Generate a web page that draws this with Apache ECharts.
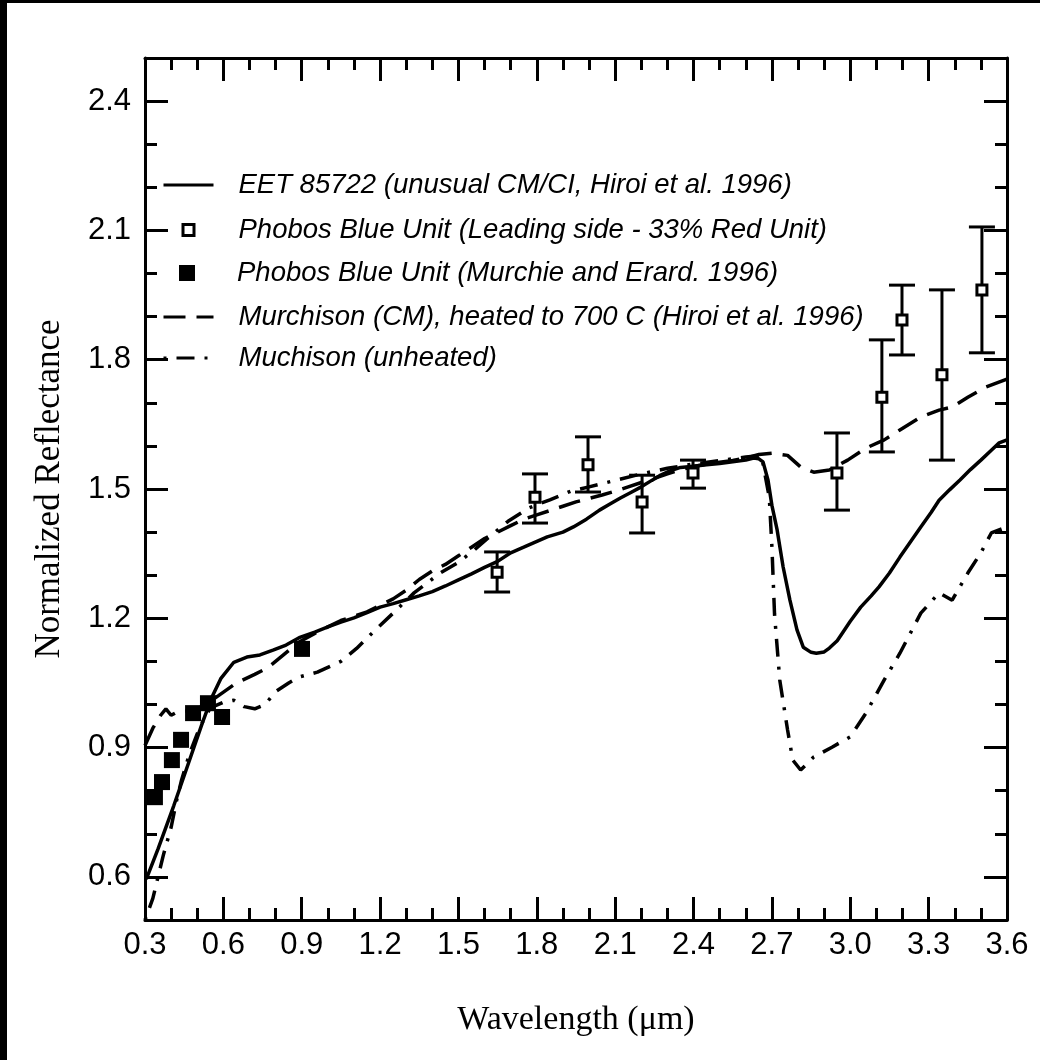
<!DOCTYPE html>
<html>
<head>
<meta charset="utf-8">
<script src="https://cdn.jsdelivr.net/npm/echarts@6/dist/echarts.min.js"></script>
<style>
  html, body { margin: 0; padding: 0; background: #000; width: 1040px; height: 1060px; overflow: hidden; }
  #chart { position: absolute; left: 7px; top: 3px; width: 1033px; height: 1057px; background: #fff; }
</style>
</head>
<body>
<div id="chart"></div>
<script>
// ---- series names ----
const nameEET = 'EET 85722 (unusual CM/CI, Hiroi et al. 1996)';
const nameBlueLeading = 'Phobos Blue Unit (Leading side - 33% Red Unit)';
const nameBlueMurchie = 'Phobos Blue Unit (Murchie and Erard. 1996)';
const nameHeated = 'Murchison (CM), heated to 700 C (Hiroi et al. 1996)';
const nameUnheated = 'Muchison (unheated)';

// ---- EET 85722 spectrum ----
const eetWl = [0.305,0.35,0.41,0.47,0.52,0.556,0.59,0.64,0.69,0.74,0.79,0.84,0.89,0.95,1.0,1.05,1.1,1.15,1.2,1.25,1.3,1.35,1.4,1.45,1.5,1.55,1.6,1.65,1.7,1.75,1.84,1.9,1.94,1.99,2.04,2.08,2.12,2.16,2.2,2.24,2.27,2.31,2.35,2.40,2.45,2.50,2.55,2.60,2.63,2.65,2.666,2.685,2.70,2.72,2.743,2.769,2.796,2.82,2.85,2.87,2.9,2.92,2.95,2.97,3.0,3.04,3.08,3.11,3.15,3.19,3.23,3.27,3.31,3.34,3.38,3.42,3.46,3.5,3.54,3.57,3.6];
const eetR  = [0.595,0.665,0.765,0.870,0.958,1.017,1.060,1.098,1.110,1.115,1.126,1.138,1.155,1.168,1.180,1.191,1.201,1.213,1.226,1.234,1.243,1.252,1.262,1.275,1.289,1.303,1.318,1.332,1.352,1.365,1.389,1.400,1.412,1.430,1.451,1.465,1.479,1.492,1.505,1.520,1.531,1.542,1.550,1.553,1.556,1.559,1.563,1.567,1.572,1.570,1.563,1.521,1.462,1.405,1.319,1.242,1.173,1.133,1.121,1.119,1.122,1.131,1.148,1.166,1.193,1.226,1.252,1.273,1.305,1.342,1.377,1.412,1.446,1.474,1.498,1.521,1.545,1.567,1.590,1.607,1.614];

// ---- Murchison heated to 700 C ----
const heatedWl = [0.30,0.33,0.36,0.38,0.40,0.43,0.47,0.52,0.58,0.65,0.72,0.77,0.83,0.89,0.95,1.0,1.05,1.1,1.15,1.2,1.25,1.3,1.35,1.4,1.45,1.5,1.55,1.6,1.65,1.7,1.75,1.8,1.85,1.9,1.95,2.0,2.05,2.1,2.15,2.2,2.25,2.3,2.35,2.4,2.45,2.5,2.55,2.6,2.65,2.7,2.76,2.81,2.86,2.92,2.99,3.06,3.13,3.19,3.27,3.34,3.39,3.45,3.52,3.6];
const heatedR  = [0.905,0.945,0.975,0.99,0.975,0.985,0.985,0.995,1.02,1.05,1.07,1.085,1.115,1.145,1.165,1.18,1.195,1.205,1.215,1.23,1.245,1.265,1.29,1.31,1.325,1.345,1.365,1.385,1.40,1.415,1.43,1.44,1.45,1.46,1.47,1.478,1.486,1.495,1.505,1.515,1.525,1.535,1.545,1.552,1.558,1.562,1.566,1.572,1.580,1.583,1.578,1.551,1.539,1.544,1.567,1.595,1.614,1.637,1.667,1.683,1.690,1.713,1.737,1.755];

// ---- Murchison unheated ----
const unheatedWl = [0.30,0.33,0.37,0.40,0.42,0.44,0.47,0.51,0.55,0.60,0.64,0.68,0.72,0.76,0.80,0.85,0.89,0.96,1.05,1.11,1.17,1.25,1.33,1.43,1.5,1.56,1.62,1.69,1.77,1.85,1.93,2.0,2.1,2.2,2.3,2.4,2.5,2.6,2.66,2.69,2.70,2.71,2.73,2.76,2.78,2.81,2.86,2.93,3.0,3.06,3.13,3.19,3.27,3.34,3.39,3.45,3.5,3.54,3.6];
const unheatedR  = [0.50,0.55,0.65,0.715,0.775,0.825,0.885,0.948,0.992,1.005,1.010,0.995,0.99,1.00,1.03,1.05,1.064,1.075,1.10,1.13,1.166,1.212,1.259,1.305,1.33,1.358,1.39,1.425,1.456,1.475,1.495,1.505,1.52,1.535,1.548,1.558,1.566,1.574,1.578,1.48,1.366,1.21,1.057,0.941,0.871,0.848,0.878,0.901,0.925,0.98,1.057,1.119,1.212,1.259,1.242,1.305,1.352,1.398,1.412];

// ---- Phobos Blue Unit, leading side (with error bars) ----
const leadWl   = [1.648,1.793,1.996,2.203,2.398,2.949,3.121,3.198,3.351,3.504];
const leadR    = [1.307,1.481,1.556,1.470,1.537,1.537,1.713,1.892,1.765,1.962];
const leadLow  = [1.261,1.421,1.493,1.398,1.502,1.451,1.586,1.811,1.567,1.816];
const leadHigh = [1.354,1.535,1.621,1.532,1.567,1.630,1.846,1.973,1.962,2.108];

// ---- Phobos Blue Unit, Murchie and Erard ----
const murchieWl = [0.338,0.365,0.403,0.438,0.484,0.541,0.595,0.901];
const murchieR  = [0.785,0.820,0.871,0.918,0.980,1.003,0.971,1.129];

// ---- axis ticks ----
const xMajorTicks = [0.3,0.6,0.9,1.2,1.5,1.8,2.1,2.4,2.7,3.0,3.3,3.6];
const yMajorTicks = [0.6,0.9,1.2,1.5,1.8,2.1,2.4];

const zip = (a, b) => a.map((v, i) => [v, b[i]]);

const black = '#000';
const sansFont = '"Liberation Sans", Arial, Helvetica, sans-serif';
const serifFont = '"Liberation Serif", "Times New Roman", serif';
const curveWidth = 3.5;

const tickFmt = v => Number(v).toFixed(1);

function xAxisCfg(position, withLabels) {
  return {
    type: 'value', position: position, min: 0.3, max: 3.6, interval: 0.3,
    axisLine: { show: true, lineStyle: { color: black, width: 3 } },
    axisTick: { show: true, inside: true, length: 23, customValues: xMajorTicks, lineStyle: { color: black, width: 3 } },
    minorTick: { show: true, splitNumber: 3, length: 12, lineStyle: { color: black, width: 3 } },
    axisLabel: { show: withLabels, margin: 10, fontSize: 31, color: black, fontFamily: sansFont, formatter: tickFmt },
    splitLine: { show: false },
    name: withLabels ? 'Wavelength (μm)' : '',
    nameLocation: 'middle', nameGap: 83,
    nameTextStyle: { fontFamily: serifFont, fontSize: 34, color: black }
  };
}

function yMajorCfg(position, withLabels) {
  return {
    type: 'value', position: position, min: 0.5, max: 2.5,
    axisLine: { show: true, lineStyle: { color: black, width: 3 } },
    axisTick: { show: true, inside: true, length: 23, customValues: yMajorTicks, lineStyle: { color: black, width: 3 } },
    axisLabel: { show: withLabels, customValues: yMajorTicks, margin: 14, fontSize: 31, color: black, fontFamily: sansFont, formatter: tickFmt },
    splitLine: { show: false },
    name: withLabels ? 'Normalized Reflectance' : '',
    nameLocation: 'middle', nameGap: 78,
    nameTextStyle: { fontFamily: serifFont, fontSize: 35, color: black }
  };
}

function yMinorCfg(position) {
  return {
    type: 'value', position: position, min: 0.5, max: 2.5, interval: 0.1,
    axisLine: { show: false },
    axisTick: { show: true, inside: true, length: 12, lineStyle: { color: black, width: 3 } },
    axisLabel: { show: false },
    splitLine: { show: false }
  };
}

// error bars: vertical whisker with caps
function renderErrorBar(params, api) {
  const x = api.value(0);
  const lo = api.coord([x, api.value(1)]);
  const hi = api.coord([x, api.value(2)]);
  const half = 13;
  const style = { stroke: black, lineWidth: 3 };
  return {
    type: 'group',
    children: [
      { type: 'line', shape: { x1: lo[0], y1: lo[1], x2: hi[0], y2: hi[1] }, style: style },
      { type: 'line', shape: { x1: lo[0] - half, y1: lo[1], x2: lo[0] + half, y2: lo[1] }, style: style },
      { type: 'line', shape: { x1: hi[0] - half, y1: hi[1], x2: hi[0] + half, y2: hi[1] }, style: style }
    ]
  };
}

const heatedDash = [22, 11];
const unheatedDash = [18, 10, 3, 10];

// legend: one component per row so each icon can have its own size
const legendTextX = 230;
function legendText(iconLeft, iconWidth) {
  return {
    fontFamily: sansFont, fontStyle: 'italic', fontSize: 27.5, color: black, lineHeight: 28,
    padding: [0, 0, 0, legendTextX - (iconLeft + iconWidth + 5)]
  };
}
function lineLegend(name, centerY) {
  return {
    show: true, orient: 'vertical', left: 155, top: centerY - 14, padding: 0,
    itemWidth: 50, itemHeight: 14, selectedMode: false,
    textStyle: legendText(155, 50),
    itemStyle: { opacity: 0 },
    lineStyle: { width: 3 },
    data: [name]
  };
}
function squareLegend(name, centerY, size, style) {
  const left = 180 - size / 2;
  return {
    show: true, orient: 'vertical', left: left, top: centerY - 14, padding: 0,
    itemWidth: size, itemHeight: size, selectedMode: false,
    textStyle: legendText(left, size),
    data: [{ name: name, icon: 'rect', itemStyle: style }]
  };
}

const option = {
  animation: false,
  backgroundColor: '#fff',
  grid: { left: 138, top: 55, width: 862, height: 862 },
  xAxis: [xAxisCfg('bottom', true), xAxisCfg('top', false)],
  yAxis: [yMajorCfg('left', true), yMinorCfg('left'), yMajorCfg('right', false), yMinorCfg('right')],
  legend: [
    lineLegend(nameEET, 182),
    squareLegend(nameBlueLeading, 227, 11, { color: '#fff', borderColor: black, borderWidth: 3 }),
    squareLegend(nameBlueMurchie, 270, 16, { color: black, borderWidth: 0 }),
    lineLegend(nameHeated, 314),
    lineLegend(nameUnheated, 355)
  ],
  series: [
    {
      name: nameEET, type: 'line', data: zip(eetWl, eetR), symbol: 'none', z: 3,
      lineStyle: { color: black, width: curveWidth, type: 'solid' }, itemStyle: { color: black }
    },
    {
      name: nameHeated, type: 'line', data: zip(heatedWl, heatedR), symbol: 'none', z: 3,
      lineStyle: { color: black, width: curveWidth, type: heatedDash }, itemStyle: { color: black }
    },
    {
      name: nameUnheated, type: 'line', data: zip(unheatedWl, unheatedR), symbol: 'none', z: 3,
      lineStyle: { color: black, width: curveWidth, type: unheatedDash, dashOffset: 28 }, itemStyle: { color: black }
    },
    {
      name: 'leadErr', type: 'custom', renderItem: renderErrorBar, z: 4,
      data: leadWl.map((w, i) => [w, leadLow[i], leadHigh[i]]),
      encode: { x: 0, y: [1, 2] }
    },
    {
      name: nameBlueLeading, type: 'scatter', data: zip(leadWl, leadR), symbol: 'rect', symbolSize: 10, z: 5,
      itemStyle: { color: '#fff', borderColor: black, borderWidth: 3, opacity: 1 }
    },
    {
      name: nameBlueMurchie, type: 'scatter', data: zip(murchieWl, murchieR), symbol: 'rect', symbolSize: 16, z: 5,
      itemStyle: { color: black, opacity: 1 }
    }
  ]
};

const chart = echarts.init(document.getElementById('chart'), null, { renderer: 'canvas' });
chart.setOption(option);
</script>
</body>
</html>
